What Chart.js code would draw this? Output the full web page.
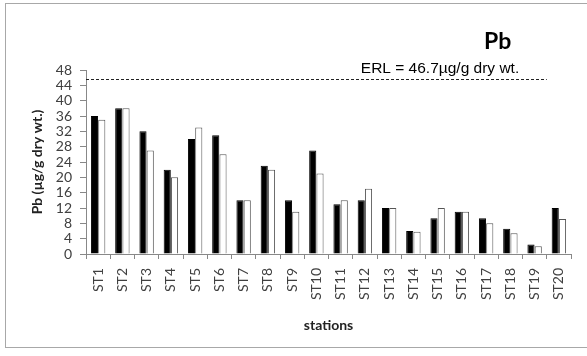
<!DOCTYPE html>
<html><head><meta charset="utf-8">
<script src="https://cdn.jsdelivr.net/npm/chart.js@4/dist/chart.umd.min.js"></script>
<style>
html,body{margin:0;padding:0;background:#fff;overflow:hidden;width:587px;height:356px;}
#frame{position:absolute;left:5px;top:3px;width:620px;height:343px;border:1px solid #a8a8a8;}
#wrap{position:absolute;left:0;top:0;width:587px;height:356px;}
#pb{position:absolute;left:484px;top:26px;font:bold 23px Lato,sans-serif;color:#000;}
</style></head>
<body>
<div id="frame"></div>
<div id="wrap"><canvas id="c" width="587" height="356"></canvas></div>
<div id="pb">Pb</div>
<script>
const stations = ["ST1","ST2","ST3","ST4","ST5","ST6","ST7","ST8","ST9","ST10","ST11","ST12","ST13","ST14","ST15","ST16","ST17","ST18","ST19","ST20"];
const seriesBlack = [36,38,32,22,30,31,14,23,14,27,13,14,12,6,9.3,11,9.3,6.6,2.5,12];
const seriesWhite = [35,38,27,20,33,26,14,22,11,21,14,17,12,5.8,12,11,8,5.4,2,9.1];
const yTicksMax = 48;
const yTickStep = 4;
const erlLevel = 45.6;
const erlLabel = "ERL = 46.7µg/g dry wt.";
const erlEndCategory = 19;

const erlPlugin = {
  id:'erl',
  afterDatasetsDraw(chart){
    const {ctx, chartArea, scales:{x,y}} = chart;
    const yy = Math.round(y.getPixelForValue(erlLevel))+0.5;
    const xEnd = (x.getPixelForValue(erlEndCategory-1)+x.getPixelForValue(erlEndCategory))/2;
    ctx.save();
    ctx.strokeStyle='#222';ctx.lineWidth=1;ctx.setLineDash([3,2]);
    ctx.beginPath();ctx.moveTo(chartArea.left,yy);ctx.lineTo(xEnd,yy);ctx.stroke();
    ctx.setLineDash([]);
    ctx.fillStyle='#000';ctx.font='15.5px "Liberation Sans",Arial,sans-serif';
    ctx.textAlign='center';ctx.textBaseline='middle';
    ctx.fillText(erlLabel,440,yy-11);
    ctx.restore();
  }
};

new Chart(document.getElementById('c'),{
  type:'bar',
  data:{labels:stations,datasets:[
    {data:seriesBlack,backgroundColor:'#000',borderColor:'#000',borderWidth:1},
    {data:seriesWhite,backgroundColor:'#fff',borderColor:'#555',borderWidth:1}
  ]},
  options:{
    responsive:false,animation:false,
    layout:{padding:{left:27,top:70,right:16,bottom:20}},
    plugins:{legend:{display:false},tooltip:{enabled:false}},
    datasets:{bar:{categoryPercentage:0.6,barPercentage:0.98}},
    scales:{
      x:{
        offset:true,
        grid:{drawOnChartArea:false,drawTicks:true,tickLength:5,color:'#888',offset:true},
        border:{color:'#888'},
        ticks:{minRotation:90,maxRotation:90,autoSkip:false,padding:9,color:'#404040',font:{family:'Lato',size:14}},
        title:{display:true,text:'stations',color:'#222',font:{family:'Lato',size:14,weight:'bold'},padding:{top:4,bottom:2}},
        afterFit(s){s.height=82;}
      },
      y:{
        min:0,max:yTicksMax,
        grid:{drawOnChartArea:false,drawTicks:true,tickLength:6,color:'#888'},
        border:{color:'#888'},
        ticks:{stepSize:yTickStep,autoSkip:false,padding:8,color:'#404040',font:{family:'Lato',size:14}},
        title:{display:true,text:'Pb (µg/g dry wt.)',color:'#222',font:{family:'Lato',size:14,weight:'bold'},padding:{top:2,bottom:4}},
        afterFit(s){s.width=59;}
      }
    }
  },
  plugins:[erlPlugin]
});
</script>
</body></html>
